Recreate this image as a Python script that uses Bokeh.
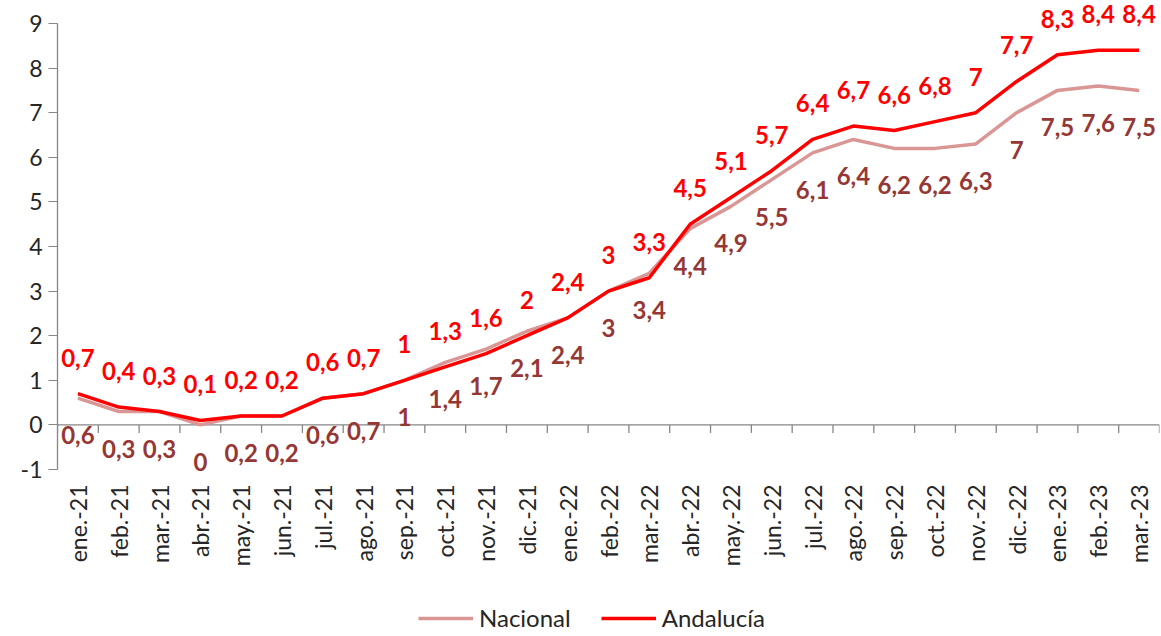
import math
from bokeh.plotting import figure
from bokeh.models import FixedTicker, Legend, LegendItem, Range1d, ColumnDataSource
from bokeh.core.properties import value
from bokeh.embed import file_html
from bokeh.resources import INLINE

months = ["ene.-21", "feb.-21", "mar.-21", "abr.-21", "may.-21", "jun.-21",
          "jul.-21", "ago.-21", "sep.-21", "oct.-21", "nov.-21", "dic.-21",
          "ene.-22", "feb.-22", "mar.-22", "abr.-22", "may.-22", "jun.-22",
          "jul.-22", "ago.-22", "sep.-22", "oct.-22", "nov.-22", "dic.-22",
          "ene.-23", "feb.-23", "mar.-23"]
nacional = [0.6, 0.3, 0.3, 0, 0.2, 0.2, 0.6, 0.7, 1, 1.4, 1.7, 2.1, 2.4, 3, 3.4,
            4.4, 4.9, 5.5, 6.1, 6.4, 6.2, 6.2, 6.3, 7, 7.5, 7.6, 7.5]
andalucia = [0.7, 0.4, 0.3, 0.1, 0.2, 0.2, 0.6, 0.7, 1, 1.3, 1.6, 2, 2.4, 3, 3.3,
             4.5, 5.1, 5.7, 6.4, 6.7, 6.6, 6.8, 7, 7.7, 8.3, 8.4, 8.4]
y_ticks = list(range(-1, 10))

FONT = "Lato"
C_NAC_LINE = "#D99694"
C_NAC_TXT = "#953735"
C_AND = "#FF0000"
C_AXIS = "#868686"
C_TXT = "#262626"

n = len(months)
xs = list(range(n))
ymin, ymax = y_ticks[0], y_ticks[-1]
fmt = lambda v: f"{v:g}".replace(".", ",")
src = ColumnDataSource(dict(
    x=xs, nac=nacional, anda=andalucia, base=[ymin] * n, month=months,
    nac_lbl=[fmt(v) for v in nacional], and_lbl=[fmt(v) for v in andalucia]))

W, H = 1161, 636
TOP, LEFT, RIGHT = 23, 57, 2
PX_PER_UNIT = 44.6
y_end = ymax + TOP / PX_PER_UNIT
y_start = y_end - H / PX_PER_UNIT

p = figure(width=W, height=H, x_range=Range1d(-0.5, n - 0.5), y_range=Range1d(y_start, y_end),
           output_backend="svg", toolbar_location=None, x_axis_location=None,
           min_border_top=0, min_border_left=LEFT, min_border_right=RIGHT, min_border_bottom=0)
p.grid.visible = False
p.outline_line_color = None

ya = p.yaxis[0]
ya.ticker = FixedTicker(ticks=y_ticks)
ya.major_label_overrides = {t: str(t) for t in y_ticks}
ya.bounds = (ymin, ymax)
ya.major_tick_in = 0
ya.major_tick_out = 9
ya.minor_tick_line_color = None
ya.axis_line_color = C_AXIS
ya.axis_line_width = 1.3
ya.major_tick_line_color = C_AXIS
ya.major_label_text_font = FONT
ya.major_label_text_font_size = "23px"
ya.major_label_text_color = C_TXT
ya.major_label_standoff = 6

# axis line at zero with ticks between categories
bounds = [i - 0.5 for i in range(n + 1)]
p.segment(x0=[bounds[0]], x1=[bounds[-1]], y0=[0], y1=[0], line_color=C_AXIS, line_width=1.3)
p.segment(x0=bounds, x1=bounds, y0=[0] * len(bounds), y1=[-8 / PX_PER_UNIT] * len(bounds),
          line_color=C_AXIS, line_width=1.3)

# category labels below the plotting area
p.text("x", "base", text="month", source=src, angle=math.pi / 2, y_offset=15,
       text_align="right", text_baseline="middle", text_font=value(FONT),
       text_font_size="23px", text_color=C_TXT)

r_nac = p.line("x", "nac", source=src, line_color=C_NAC_LINE, line_width=3.5)
r_and = p.line("x", "anda", source=src, line_color=C_AND, line_width=3.5)

p.text("x", "anda", text="and_lbl", source=src, y_offset=-36, text_align="center",
       text_baseline="middle", text_font=value(FONT), text_font_style="bold",
       text_font_size="24px", text_color=C_AND)
p.text("x", "nac", text="nac_lbl", source=src, y_offset=37, text_align="center",
       text_baseline="middle", text_font=value(FONT), text_font_style="bold",
       text_font_size="24px", text_color=C_NAC_TXT)

legend = Legend(items=[LegendItem(label="Nacional", renderers=[r_nac]),
                       LegendItem(label="Andalucía", renderers=[r_and])],
                orientation="horizontal", location=(361, 4), glyph_width=55, glyph_height=20,
                label_text_font=FONT, label_text_font_size="24px", label_text_color=C_TXT,
                label_standoff=6, spacing=30, border_line_color=None,
                background_fill_alpha=0, padding=0, margin=0)
p.add_layout(legend)

open("out.html", "w").write(file_html(p, INLINE))
